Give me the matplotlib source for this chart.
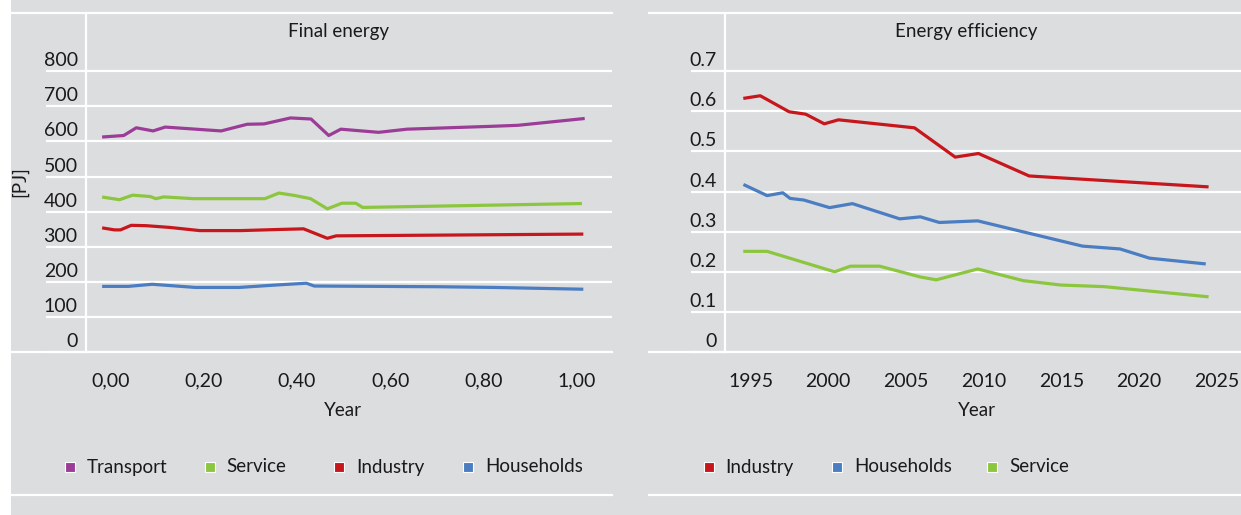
import matplotlib
matplotlib.use("Agg")
import matplotlib.pyplot as plt
from matplotlib.lines import Line2D
from matplotlib.transforms import ScaledTranslation

# ---------------- data ----------------
# Final energy [PJ]
fe_transport_x = [-0.015, 0.028, 0.055, 0.091, 0.117, 0.237, 0.293, 0.329, 0.386,
                  0.430, 0.468, 0.494, 0.575, 0.636, 0.814, 0.874, 1.014]
fe_transport = [613, 617, 639, 630, 641, 630, 649, 650, 667, 664, 617, 635, 626,
                635, 643, 646, 665]

fe_service_x = [-0.015, 0.019, 0.047, 0.085, 0.097, 0.114, 0.178, 0.331, 0.361,
                0.395, 0.429, 0.465, 0.496, 0.526, 0.541, 1.008]
fe_service = [441, 434, 447, 443, 437, 442, 437, 437, 453, 446, 437, 408, 424,
              424, 412, 423]

fe_industry_x = [-0.015, 0.008, 0.021, 0.044, 0.076, 0.127, 0.191, 0.280, 0.356,
                 0.414, 0.465, 0.484, 1.011]
fe_industry = [353, 348, 348, 361, 360, 355, 346, 346, 349, 351, 324, 331, 336]

fe_households_x = [-0.015, 0.038, 0.089, 0.182, 0.276, 0.356, 0.420, 0.437,
                   0.704, 0.823, 1.011]
fe_households = [187, 187, 193, 184, 184, 191, 196, 188, 186, 184, 179]

fe_xticks = [0.0, 0.2, 0.4, 0.6, 0.8, 1.0]
fe_xticklabels = ["0,00", "0,20", "0,40", "0,60", "0,80", "1,00"]
fe_yticks = [0, 100, 200, 300, 400, 500, 600, 700, 800]

# Energy efficiency
ee_industry_year = [1994.63, 1995.62, 1997.48, 1998.55, 1999.74, 2000.66, 2005.55,
                    2008.17, 2009.67, 2012.93, 2024.38]
ee_industry = [0.633, 0.639, 0.599, 0.593, 0.569, 0.579, 0.559, 0.486, 0.495,
               0.439, 0.412]

ee_households_year = [1994.63, 1996.06, 1997.07, 1997.54, 1998.42, 2000.08,
                      2001.55, 2004.60, 2005.93, 2007.15, 2009.62, 2012.29,
                      2016.37, 2018.78, 2020.68, 2024.20]
ee_households = [0.416, 0.390, 0.397, 0.383, 0.379, 0.360, 0.370, 0.332, 0.337,
                 0.323, 0.327, 0.302, 0.264, 0.257, 0.234, 0.220]

ee_service_year = [1994.63, 1996.06, 2000.41, 2001.42, 2003.31, 2005.93, 2006.95,
                   2009.62, 2012.55, 2014.96, 2017.76, 2024.38]
ee_service = [0.251, 0.251, 0.200, 0.214, 0.214, 0.187, 0.180, 0.207, 0.178,
              0.167, 0.163, 0.138]

ee_xticks = [1995, 2000, 2005, 2010, 2015, 2020, 2025]
ee_yticks = [0, 0.1, 0.2, 0.3, 0.4, 0.5, 0.6, 0.7]
ee_yticklabels = ["0", "0.1", "0.2", "0.3", "0.4", "0.5", "0.6", "0.7"]

# ---------------- style ----------------
BG = "#dcdddf"
C_TRANSPORT = "#9b3c97"
C_SERVICE = "#8cc63e"
C_INDUSTRY = "#c8161d"
C_HOUSEHOLDS = "#4a7dc1"
FONT = ["Lato", "DejaVu Sans"]
TXT = "#1a1a1a"

plt.rcParams["font.family"] = FONT
plt.rcParams["text.color"] = TXT

W, H = 1241, 515
fig = plt.figure(figsize=(W / 100, H / 100), dpi=100)
fig.patch.set_facecolor(BG)


def fx(px):
    return px / W


def fy(py):
    return 1 - py / H


# white strip at the very left
fig.add_artist(plt.Rectangle((0, 0), fx(10.5), 1, transform=fig.transFigure,
                             facecolor="white", edgecolor="none", zorder=0))

# white frame rules at the top and bottom of each panel
for x0, x1 in [(10.5, 612), (649, 1241)]:
    for yy in (12.5, 495):
        fig.add_artist(Line2D([fx(x0), fx(x1)], [fy(yy), fy(yy)], color="white",
                              lw=1.6, transform=fig.transFigure, zorder=1))
    # full-width base line at zero
    fig.add_artist(Line2D([fx(x0), fx(x1)], [fy(352), fy(352)], color="white",
                          lw=1.6, transform=fig.transFigure, zorder=1))


def style_axes(ax, yticks, ylabels, ext_px, xticks, xlabels, ylim, xlim):
    ax.set_facecolor(BG)
    ax.patch.set_alpha(0)
    ax.set_xlim(*xlim)
    ax.set_ylim(*ylim)
    for s in ["right", "bottom"]:
        ax.spines[s].set_visible(False)
    for s in ["left", "top"]:
        ax.spines[s].set_color("white")
        ax.spines[s].set_linewidth(1.6)
    ax.spines["top"].set_visible(False)
    ax.set_yticks(yticks)
    ax.set_yticklabels(ylabels)
    ax.set_xticks(xticks)
    ax.set_xticklabels(xlabels)
    ax.tick_params(axis="y", length=0, pad=6, labelsize=14, labelcolor=TXT)
    ax.tick_params(axis="x", length=0, pad=15, labelsize=14, labelcolor=TXT)
    ax.grid(axis="y", color="white", lw=1.6)
    ax.grid(axis="x", visible=False)
    ax.set_axisbelow(True)
    # tick labels sit above their grid lines
    off = ScaledTranslation(0, 0.12, fig.dpi_scale_trans)
    for lab in ax.get_yticklabels():
        lab.set_transform(lab.get_transform() + off)
    # grid lines continue left of the axis
    width_px = ax.get_position().width * W
    ax.hlines(yticks, -ext_px / width_px, 0, transform=ax.get_yaxis_transform(),
              color="white", lw=1.6, clip_on=False)


# ---------------- left: final energy ----------------
axL = fig.add_axes([fx(86), fy(352), fx(612) - fx(86), fy(12.5) - fy(352)])
style_axes(axL, fe_yticks, [str(v) for v in fe_yticks], 40,
           fe_xticks, fe_xticklabels, (0, 967.5), (-0.053, 1.076))
lw = 2.3
axL.plot(fe_transport_x, fe_transport, color=C_TRANSPORT, lw=lw, label="Transport")
axL.plot(fe_service_x, fe_service, color=C_SERVICE, lw=lw, label="Service")
axL.plot(fe_industry_x, fe_industry, color=C_INDUSTRY, lw=lw, label="Industry")
axL.plot(fe_households_x, fe_households, color=C_HOUSEHOLDS, lw=lw, label="Households")

# ---------------- right: energy efficiency ----------------
axR = fig.add_axes([fx(725), fy(352), fx(1241) - fx(725), fy(12.5) - fy(352)])
style_axes(axR, ee_yticks, ee_yticklabels, 34,
           ee_xticks, [str(v) for v in ee_xticks], (0, 0.8466), (1993.35, 2026.57))
axR.plot(ee_industry_year, ee_industry, color=C_INDUSTRY, lw=lw, label="Industry")
axR.plot(ee_households_year, ee_households, color=C_HOUSEHOLDS, lw=lw, label="Households")
axR.plot(ee_service_year, ee_service, color=C_SERVICE, lw=lw, label="Service")

# ---------------- titles and axis labels ----------------
fs = 13.5
fig.text(fx(339), fy(32), "Final energy", ha="center", va="center", fontsize=fs)
fig.text(fx(966), fy(32), "Energy efficiency", ha="center", va="center", fontsize=fs)
fig.text(fx(343), fy(410), "Year", ha="center", va="center", fontsize=fs)
fig.text(fx(977), fy(410), "Year", ha="center", va="center", fontsize=fs)
fig.text(fx(20), fy(182), "[PJ]", ha="center", va="center", rotation=90, fontsize=fs)

# ---------------- legends ----------------
legend_rows = [
    (axL, [69.7, 209.8, 338.9, 467.9]),
    (axR, [708.6, 836.9, 992.0]),
]
for ax, marker_x in legend_rows:
    for line, mx in zip(ax.get_lines(), marker_x):
        fig.add_artist(Line2D([fx(mx)], [fy(467)], marker="s", markersize=7.2,
                              markerfacecolor=line.get_color(), markeredgecolor="white",
                              markeredgewidth=0.8, linestyle="none",
                              transform=fig.transFigure))
        fig.text(fx(mx + 17), fy(467), line.get_label(), ha="left", va="center",
                 fontsize=fs)

fig.savefig("out.png", dpi=100, facecolor=BG)
